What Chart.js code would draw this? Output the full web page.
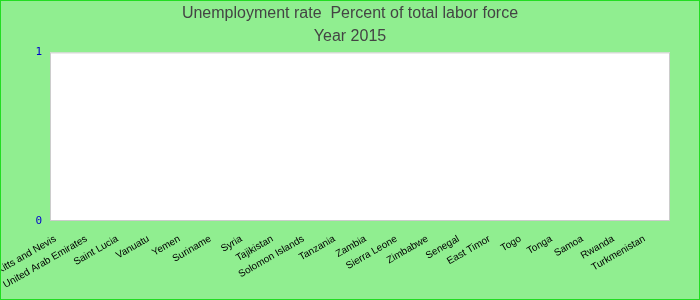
<!DOCTYPE html>
<html>
<head>
<meta charset="utf-8">
<script src="https://cdn.jsdelivr.net/npm/chart.js@4/dist/chart.umd.min.js"></script>
<style>
  html, body { margin: 0; padding: 0; background: #90EE90; }
  #wrap { position: relative; width: 700px; height: 300px; box-sizing: border-box; border: 1px solid #22dd22; }
  canvas { display: block; }
</style>
</head>
<body>
<div id="wrap"><canvas id="c" width="698" height="298"></canvas></div>
<script>
const categories = ["Saint Kitts and Nevis", "United Arab Emirates", "Saint Lucia", "Vanuatu", "Yemen", "Suriname", "Syria", "Tajikistan", "Solomon Islands", "Tanzania", "Zambia", "Sierra Leone", "Zimbabwe", "Senegal", "East Timor", "Togo", "Tonga", "Samoa", "Rwanda", "Turkmenistan"];
const unemployment = [null, null, null, null, null, null, null, null, null, null, null, null, null, null, null, null, null, null, null, null];
const yTicks = [0, 1];
const titleLines = ["Unemployment rate  Percent of total labor force", "Year 2015"];

const plotBg = {
  id: 'plotBg',
  beforeDraw(chart) {
    const { ctx, chartArea: a } = chart;
    ctx.save();
    ctx.fillStyle = '#ffffff';
    ctx.fillRect(a.left, a.top, a.right - a.left, a.bottom - a.top);
    ctx.strokeStyle = '#cccccc';
    ctx.lineWidth = 1;
    ctx.strokeRect(a.left + 0.5, a.top + 0.5, a.right - a.left - 1, a.bottom - a.top - 1);
    ctx.restore();
  }
};

new Chart(document.getElementById('c'), {
  type: 'bar',
  data: {
    labels: categories,
    datasets: [{ label: 'Unemployment rate', data: unemployment, backgroundColor: '#3366cc' }]
  },
  options: {
    responsive: false,
    animation: false,
    layout: { padding: 0 },
    plugins: {
      legend: { display: false },
      tooltip: { enabled: false },
      title: {
        display: true,
        text: titleLines,
        color: '#444444',
        font: { family: 'Arial, "Liberation Sans"', size: 16, weight: 'normal', lineHeight: 1.45 },
        padding: { top: 1, bottom: 4 }
      }
    },
    scales: {
      x: {
        grid: { display: false, drawTicks: false },
        border: { display: false },
        ticks: {
          autoSkip: false,
          maxRotation: 30,
          minRotation: 30,
          color: '#000000',
          padding: 12,
          labelOffset: -10,
          font: { family: 'Arial, "Liberation Sans"', size: 10 }
        },
        afterFit(s) { s.height = 78; s.paddingLeft = 0; s.paddingRight = 0; }
      },
      y: {
        min: 0,
        max: 1,
        afterBuildTicks(s) { s.ticks = yTicks.map(v => ({ value: v })); },
        grid: { display: false, drawTicks: false },
        border: { display: false },
        ticks: {
          color: '#0000cc',
          padding: 8,
          font: { family: '"DejaVu Sans Mono", monospace', size: 11 }
        },
        afterFit(s) { s.width = 49; }
      },
      yRight: {
        position: 'right',
        min: 0,
        max: 1,
        grid: { display: false, drawTicks: false },
        border: { display: false },
        ticks: { display: false },
        afterFit(s) { s.width = 29; }
      }
    }
  },
  plugins: [plotBg]
});
</script>
</body>
</html>
